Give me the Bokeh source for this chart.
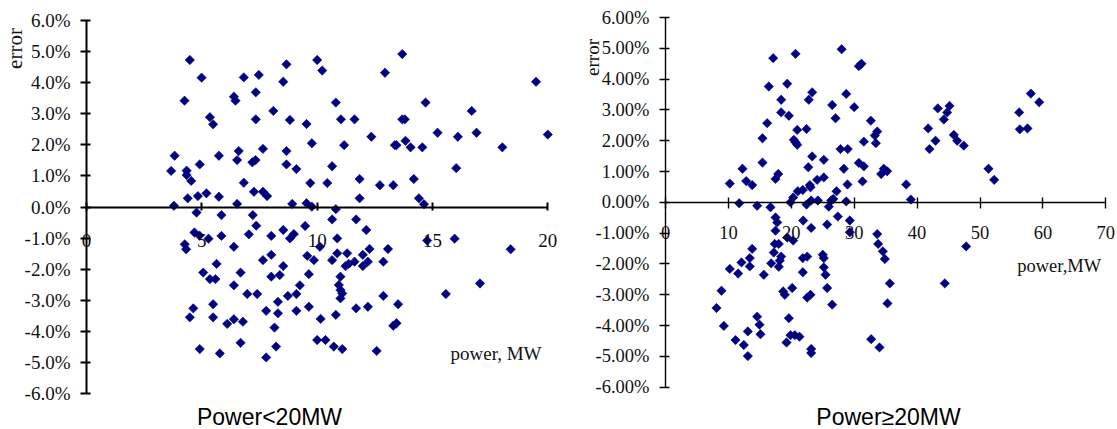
import math
from bokeh.plotting import figure
from bokeh.layouts import row
from bokeh.models import FixedTicker, PrintfTickFormatter, Label, Range1d
from bokeh.embed import file_html
from bokeh.resources import INLINE

# ---------------- data ----------------
left_power = [3.67, 3.82, 3.79, 4.48, 4.25, 4.34, 4.34, 4.54, 4.39, 4.91, 4.83, 4.99, 5.20, 5.35, 5.49, 5.74, 5.74,
              6.39, 6.46, 6.53, 6.60, 6.53, 6.82, 6.82, 7.19, 7.33, 7.47, 7.34, 7.34, 7.26, 7.65, 7.65, 7.83, 8.10,
              8.53, 8.67, 8.67, 8.67, 8.82, 9.10, 8.92,
              10.0, 10.22, 12.94, 13.69, 19.49, 10.81, 14.70, 9.54, 11.03, 11.62, 13.69, 13.80, 16.70, 9.77, 11.17,
              12.35, 13.37, 13.44, 13.83, 14.05, 14.56, 15.22, 16.10, 16.91, 18.03, 20.0, 10.65, 16.03, 9.70, 10.44,
              11.84, 12.72, 13.30, 14.19, 11.84, 14.41, 14.63, 9.54, 9.77, 10.81,
              4.77, 4.68, 4.90, 4.26, 4.32, 5.29, 5.85, 5.85, 7.21, 7.36, 7.04, 8.01, 8.53, 8.82, 8.99, 6.39, 5.06,
              5.35, 5.59, 5.64, 6.68, 6.39, 6.97, 7.40, 7.65, 8.01, 8.01, 8.38, 8.53, 8.73, 9.10, 9.25, 4.63, 4.48,
              4.91, 5.49, 5.49, 6.10, 6.39, 6.78, 5.78, 6.68, 7.79, 8.30, 8.30, 9.10, 8.15, 8.22, 7.79,
              9.48, 10.65, 11.69, 12.13, 10.87, 10.12, 9.57, 9.86, 10.87, 10.65, 11.30, 11.98, 12.27, 13.07, 9.64,
              11.01, 11.23, 11.37, 11.62, 11.98, 12.20, 12.87, 10.94, 11.01, 11.09, 11.01, 9.64, 12.87, 11.69, 12.20,
              13.51, 10.15, 10.81, 13.30, 13.44, 10.0, 10.36, 10.72, 11.09, 12.58, 14.77, 15.96, 18.39, 17.06, 15.58]
left_error = [1.16, 1.65, 0.04, 4.73, 3.42, 1.17, 1.03, 0.84, 0.28, 1.37, 0.35, 4.16, 0.44, 2.89, 2.66, 1.65, 0.33,
              3.55, 3.42, 1.51, 1.80, 0.10, 4.17, 0.78, 1.44, 1.51, 4.25, 3.69, 2.82, 0.49, 1.87, 0.49, 0.35, 3.09,
              4.03, 4.59, 1.80, 1.37, 2.80, 1.22, 0.10,
              4.73, 4.39, 4.32, 4.92, 4.03, 3.36, 3.36, 2.67, 2.82, 2.82, 2.82, 2.82, 3.09, 2.05, 1.99,
              2.26, 1.99, 1.99, 2.13, 1.92, 1.92, 2.39, 2.26, 2.39, 1.92, 2.33, 1.31, 1.25, 0.77, 0.77,
              0.90, 0.70, 0.70, 0.90, 0.28, 0.28, 0.09, 0.12, 0.01, -0.07,
              -0.18, -0.82, -0.92, -1.20, -1.36, -1.02, -0.26, -0.93, -0.26, -0.60, -0.88, -0.93, -0.74, -1.01, -0.87,
              -1.28, -2.11, -2.32, -2.32, -1.83, -2.11, -2.52, -2.80, -2.80, -1.71, -1.54, -2.24, -2.19, -1.90, -2.86,
              -2.80, -2.52, -3.26, -3.55, -4.57, -3.13, -3.55, -3.76, -3.61, -3.69, -4.71, -4.37, -3.34, -3.05, -3.42,
              -3.34, -3.88, -4.49, -4.84,
              -0.61, -0.40, -0.40, -0.74, -1.01, -1.28, -1.57, -1.71, -1.49, -1.71, -1.49, -1.54, -1.35, -1.35, -2.16,
              -2.24, -1.90, -1.83, -1.76, -1.90, -1.76, -1.76, -2.51, -2.67, -2.78, -2.94, -3.21, -2.86, -3.26, -3.21,
              -3.13, -3.60, -3.47, -3.82, -3.74, -4.28, -4.28, -4.49, -4.57, -4.63, -1.08, -1.02, -1.36, -2.46, -2.80]

right_power = [10.22, 12.24, 12.83, 13.78, 11.71, 14.57, 16.69, 15.42, 15.42, 16.16, 16.42, 17.12, 18.39, 18.39,
               17.49, 17.92, 19.35, 19.61, 20.67, 20.40, 20.67, 20.94, 20.94, 22.42, 22.78, 23.32, 23.32, 22.70,
               22.94, 23.05, 24.11, 25.17, 25.17, 26.50, 27.03, 28.0, 27.82, 27.19, 21.03, 20.30, 21.83, 19.87,
               22.42, 23.16, 24.22, 25.96, 26.34, 26.66,
               17.49, 17.76, 17.49, 21.89, 23.16, 25.70, 27.40, 19.35, 20.30, 17.38, 18.01, 17.22, 13.78, 13.40,
               12.08, 10.22, 11.55, 13.40, 15.63, 16.80, 18.39, 18.17, 18.01, 21.83, 22.53, 21.83, 25.0, 25.17,
               25.17, 25.44, 25.70, 26.50, 18.71, 18.97, 20.14, 22.53, 23.05, 8.90, 8.11, 9.27, 11.13, 12.45, 13.09,
               13.09, 14.57, 14.94, 15.10, 19.61, 19.24, 19.87, 20.56, 21.30, 23.16, 23.16,
               30.74, 31.16, 28.73, 30.0, 32.64, 43.29, 45.15, 44.78, 44.25, 41.76, 42.93, 41.97, 45.84, 46.37,
               47.42, 58.08, 59.41, 56.23, 56.33, 57.55, 51.35, 52.25, 33.66, 33.28, 33.44, 31.53, 28.98, 28.35,
               30.74, 31.53, 31.32, 28.93, 28.73, 34.29, 34.70, 35.24, 38.27, 39.0,
               29.3, 29.3, 33.66, 33.81, 34.55, 34.87, 35.66, 35.29, 32.70, 34.02, 44.40, 47.80]
right_error = [0.61, 1.09, 0.69, 0.56, -0.03, -0.11, -0.16, 2.08, 1.29, 2.57, 3.76, 4.68, 3.33, 2.92,
               0.76, 0.92, 3.85, 2.81, 4.82, 2.03, 1.95, 1.87, 2.35, 2.38, 3.33, 3.57, 1.49, 1.14,
               0.56, 0.49, 0.73, 1.38, 0.81, 3.16, 2.73, 4.97, 1.73, 0.36, 0.36, 0.16, 0.40, 0.0,
               -0.07, 0.06, 0.06, -0.14, 0.06, 0.11,
               -0.49, -0.65, -0.92, -0.59, -0.83, -0.72, -0.46, -1.14, -1.24, -1.35, -1.35, -1.63, -1.51, -1.81,
               -1.95, -2.16, -2.31, -2.08, -2.35, -1.98, -1.76, -1.89, -2.09, -1.81, -1.76, -2.27, -1.70, -1.81,
               -2.11, -2.35, -2.78, -3.32, -2.89, -3.0, -2.78, -3.09, -3.0, -2.87, -3.43, -4.01, -4.47, -4.63, -4.99,
               -4.19, -3.71, -3.97, -4.28, -3.76, -4.55, -4.31, -4.31, -4.36, -4.76, -4.89,
               4.42, 4.50, 3.52, 3.09, 2.65, 3.05, 3.13, 2.92, 2.69, 2.40, 2.0, 1.73, 2.19, 2.0,
               1.84, 3.53, 3.25, 2.92, 2.37, 2.40, 1.09, 0.73, 2.30, 2.17, 1.92, 1.97, 1.73, 1.09,
               1.28, 1.17, 0.68, 0.58, 0.03, 0.92, 1.09, 1.01, 0.58, 0.09,
               -0.59, -0.97, -1.03, -1.35, -1.59, -1.84, -2.63, -3.28, -4.44, -4.71, -2.63, -1.43]

y_ticks = [-6, -5, -4, -3, -2, -1, 0, 1, 2, 3, 4, 5, 6]
left_x_ticks = [0, 5, 10, 15, 20]
right_x_ticks = [0, 10, 20, 30, 40, 50, 60, 70]

left_title = "Power<20MW"
right_title = "Power\u226520MW"
left_xlabel = "power, MW"
right_xlabel = "power,MW"
ylabel = "error"

NAVY = "#000080"
SERIF = "Liberation Serif"
SANS = "Liberation Sans"
H = 429


class Panel:
    """Maps canvas pixels to data values for a figure whose frame fills the canvas."""

    def __init__(self, width, x0px, x1px, xmax, ytop_px, ybot_px):
        self.width = width
        self.sx = (x1px - x0px) / xmax
        self.x0px = x0px
        self.sy = (ybot_px - ytop_px) / 12.0
        self.yzero = ytop_px + 6 * self.sy

    def dx(self, px):
        return (px - self.x0px) / self.sx

    def dy(self, py):
        return (self.yzero - py) / self.sy


def make_panel(geo, xs, ys, xmax, xticks, yfmt, axis_w, tick_font,
               x_standoff, tick_in_x, tick_out_x):
    p = figure(width=geo.width, height=H, output_backend="svg", toolbar_location=None,
               x_range=Range1d(geo.dx(0), geo.dx(geo.width)),
               y_range=Range1d(geo.dy(H), geo.dy(0)),
               min_border_left=0, min_border_right=0, min_border_top=0, min_border_bottom=0)
    p.outline_line_color = None
    p.grid.visible = False
    p.background_fill_color = "white"
    p.border_fill_color = "white"

    ya = p.yaxis[0]
    ya.fixed_location = 0
    ya.bounds = (-6, 6)
    ya.ticker = FixedTicker(ticks=y_ticks)
    ya.formatter = PrintfTickFormatter(format=yfmt)
    ya.major_label_text_font = SERIF
    ya.major_label_text_font_size = tick_font
    ya.major_label_text_color = "#111111"
    ya.major_tick_out = 6
    ya.major_tick_in = 4
    ya.minor_tick_out = 0
    ya.minor_tick_in = 0
    ya.major_label_standoff = 10
    ya.axis_line_width = axis_w
    ya.major_tick_line_width = axis_w
    ya.axis_line_color = "black"

    xa = p.xaxis[0]
    xa.fixed_location = 0
    xa.bounds = (0, xmax)
    xa.ticker = FixedTicker(ticks=xticks)
    xa.major_label_text_font = SERIF
    xa.major_label_text_font_size = tick_font
    xa.major_label_text_color = "#111111"
    xa.major_label_standoff = x_standoff
    xa.major_tick_in = tick_in_x
    xa.major_tick_out = tick_out_x
    xa.minor_tick_out = 0
    xa.minor_tick_in = 0
    xa.axis_line_width = axis_w
    xa.major_tick_line_width = axis_w
    xa.axis_line_color = "black"

    p.scatter(xs, ys, marker="square", angle=math.pi / 4, size=6.6,
              fill_color=NAVY, line_color=NAVY, line_width=0.6)
    return p


# pixel geometry of the two charts (canvas coordinates)
g1 = Panel(580, 86, 547.3, 20, 20, 393)
g2 = Panel(537, 85, 525.3, 70, 17, 386.7)

p1 = make_panel(g1, left_power, left_error, 20, left_x_ticks, "%.1f%%", 2, "19px", 24, 5, 3)
p2 = make_panel(g2, right_power, right_error, 70, right_x_ticks, "%.2f%%", 1.4, "18.5px", 18, 5, 6)


def add_text(p, g, px, py, text, font, size, align="left", angle=0.0, color="#111111"):
    p.add_layout(Label(x=g.dx(px), y=g.dy(py), text=text, angle=angle, text_font=font,
                       text_font_size=size, text_align=align, text_baseline="alphabetic",
                       text_color=color))


# left chart texts
add_text(p1, g1, 14, 48, ylabel, SERIF, "21px", align="center", angle=math.pi / 2)
add_text(p1, g1, 450, 353, left_xlabel, SERIF, "19px")
add_text(p1, g1, 269, 416, left_title, SANS, "23px", align="center", color="black")

# right chart texts (canvas x = page x - 580)
add_text(p2, g2, 591.5 - 580, 57, ylabel, SERIF, "19px", align="center", angle=math.pi / 2)
add_text(p2, g2, 1016.7 - 580, 265.5, right_xlabel, SERIF, "18.5px")
add_text(p2, g2, 888 - 580, 416, right_title, SANS, "23px", align="center", color="black")

layout = row(p1, p2)
open("out.html", "w").write(file_html(layout, INLINE))
